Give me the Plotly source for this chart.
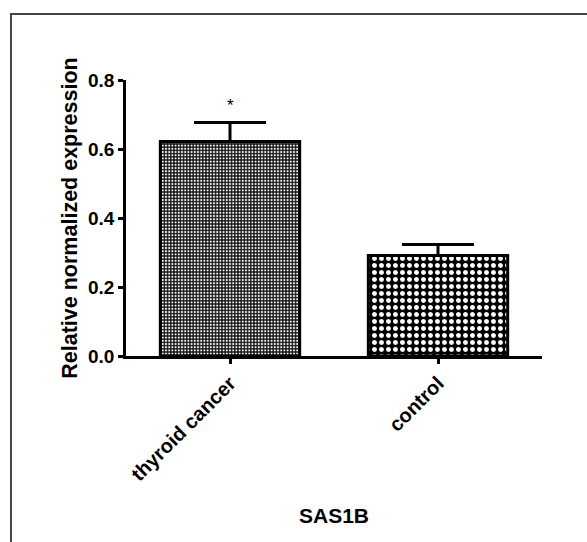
import plotly.graph_objects as go

categories = ["thyroid cancer", "control"]
values = [0.622, 0.291]
errors_up = [0.055, 0.032]
y_ticks = [0.0, 0.2, 0.4, 0.6, 0.8]
y_title = "Relative normalized expression"
x_title = "SAS1B"

FONT = "Arial, Liberation Sans, sans-serif"

L, R, T, B = 126, 45, 80, 186
W, H = 587, 542
pw = W - L - R
ph = H - T - B

fig = go.Figure()
patterns = [
    dict(shape=".", size=3.2, solidity=0.32, fgcolor="white", fgopacity=1, bgcolor="#1a1a1a", fillmode="overlay"),
    dict(shape=".", size=7, solidity=0.4, fgcolor="white", fgopacity=1, bgcolor="black", fillmode="overlay"),
]
for i, (c, v, e) in enumerate(zip(categories, values, errors_up)):
    fig.add_trace(go.Bar(
        x=[i], y=[v], width=0.67,
        marker=dict(color="black", line=dict(color="black", width=3), pattern=patterns[i]),
        error_y=dict(type="data", symmetric=False, array=[e], arrayminus=[0],
                     color="black", thickness=3, width=36),
        showlegend=False,
    ))

fig.add_annotation(x=0, y=values[0] + errors_up[0] + 0.05, text="*", showarrow=False,
                   font=dict(family=FONT, size=17, color="black"), yanchor="middle")

fig.add_annotation(xref="paper", yref="paper", x=0.5, y=-(515 - (T + ph)) / ph,
                   text="<b>" + x_title + "</b>", showarrow=False,
                   font=dict(family=FONT, size=21, color="black"), yanchor="middle")

# outer border
fig.add_shape(type="rect", xref="paper", yref="paper",
              x0=(11 - L) / pw, x1=(W + 20 - L) / pw,
              y0=-(H + 20 - T - ph) / ph, y1=(T + ph - 14) / ph,
              line=dict(color="#444", width=2), fillcolor="rgba(0,0,0,0)", layer="below")

fig.update_layout(
    width=W, height=H,
    margin=dict(l=L, r=R, t=T, b=B),
    plot_bgcolor="white", paper_bgcolor="white",
    font=dict(family=FONT, size=20, color="black"),
    xaxis=dict(
        range=[-0.5, 1.5], tickmode="array", tickvals=[0, 1],
        ticktext=["<b>" + c + "</b>" for c in categories],
        tickangle=-45, showline=True, linecolor="black", linewidth=2.5,
        ticks="outside", ticklen=5, tickwidth=2.5, tickcolor="black",
        showgrid=False, zeroline=False, tickfont=dict(size=20),
        automargin=False,
    ),
    yaxis=dict(
        range=[0, 0.8], tickmode="array", tickvals=y_ticks,
        ticktext=["<b>%.1f</b>" % t for t in y_ticks],
        showline=True, linecolor="black", linewidth=2.5,
        ticks="outside", ticklen=5, tickwidth=2.5, tickcolor="black",
        showgrid=False, zeroline=False, tickfont=dict(size=19),
        title=dict(text="<b>" + y_title + "</b>", font=dict(size=21.5), standoff=5),
        automargin=False,
    ),
)

fig.write_html("out.html", config={"displayModeBar": False},
               post_script="document.body.style.margin='0';")
